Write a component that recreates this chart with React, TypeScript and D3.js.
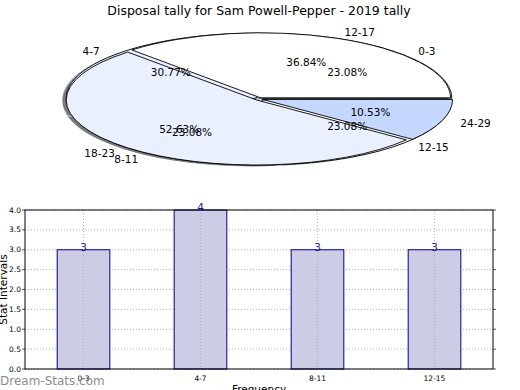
import { scaleBand, scaleLinear, pie, arc } from "d3";

const title = "Disposal tally for Sam Powell-Pepper - 2019 tally";

// first pie (2019 tally) - drawn underneath
const tallyLabels = ["0-3", "4-7", "8-11", "12-15"];
const tallyValues = [3, 4, 3, 3];
const tallyColors = ["#ffffff", "#eaf0ff", "#c4d7ff", "#ffffff"];

// second pie drawn on top of it
const rangeLabels = ["12-17", "18-23", "24-29"];
const rangeValues = [7, 10, 2];
const rangeColors = ["#ffffff", "#eaf0ff", "#c4d7ff"];

const W = 520;
const H = 390;
const FONT = "DejaVu Sans, sans-serif";

const pieCx = 259;
const pieCy = 99;
const rx = 190;
const ry = 65;
const explode = 0.02;

const arcGen = arc<any>().innerRadius(0).outerRadius(1);
const pieGen = pie<number>()
  .sort(null)
  .startAngle(Math.PI / 2)
  .endAngle(Math.PI / 2 - 2 * Math.PI);

function layout(values: number[], labels: string[], colors: string[]) {
  const total = values.reduce((a, b) => a + b, 0);
  return pieGen(values).map((a, i) => {
    const mid = (a.startAngle + a.endAngle) / 2;
    const ux = Math.sin(mid);
    const uy = -Math.cos(mid);
    return {
      d: arcGen(a) as string,
      ox: pieCx + ux * explode * rx,
      oy: pieCy + uy * explode * ry,
      lx: pieCx + ux * (explode + 1.1) * rx,
      ly: pieCy + uy * (explode + 1.1) * ry,
      px: pieCx + ux * (explode + 0.6) * rx,
      py: pieCy + uy * (explode + 0.6) * ry,
      right: ux >= 0,
      label: labels[i],
      pct: ((values[i] / total) * 100).toFixed(2) + "%",
      color: colors[i],
    };
  });
}

const pie1 = layout(tallyValues, tallyLabels, tallyColors);
const pie2 = layout(rangeValues, rangeLabels, rangeColors);

// bar chart
const plot = { left: 25, right: 493, top: 210, bottom: 369 };
const x = scaleBand<string>()
  .domain(tallyLabels)
  .range([plot.left, plot.right])
  .paddingInner(0.55)
  .paddingOuter(0.275);
const y = scaleLinear().domain([0, 4]).range([plot.bottom, plot.top]);
const yTicks = y.ticks(8);

export default function App() {
  const wedges = [...pie1, ...pie2];
  return (
    <svg
      width={W}
      height={H}
      style={{ position: "fixed", left: 0, top: 0, background: "#fff" }}
      fontFamily={FONT}
    >
      <text x={259} y={15} textAnchor="middle" fontSize={12.5}>
        {title}
      </text>

      {/* shadows */}
      {wedges.map((w, i) => (
        <path
          key={"s" + i}
          d={w.d}
          transform={`translate(${w.ox - 0.02 * rx},${w.oy + 0.02 * ry}) scale(${rx},${ry})`}
          fill="#4d4d4d"
          opacity={0.5}
        />
      ))}
      {wedges.map((w, i) => (
        <path
          key={"w" + i}
          d={w.d}
          transform={`translate(${w.ox},${w.oy}) scale(${rx},${ry})`}
          fill={w.color}
          stroke="#000"
          strokeWidth={0.9}
          vectorEffect="non-scaling-stroke"
          strokeLinejoin="round"
        />
      ))}
      {wedges.map((w, i) => (
        <g key={"t" + i} fontSize={10.5}>
          <text
            x={w.lx}
            y={w.ly}
            textAnchor={w.right ? "start" : "end"}
            dominantBaseline="central"
          >
            {w.label}
          </text>
          <text x={w.px} y={w.py} textAnchor="middle" dominantBaseline="central">
            {w.pct}
          </text>
        </g>
      ))}

      {/* bar chart grid */}
      {yTicks.map((t) => (
        <g key={"gy" + t}>
          <line
            x1={plot.left}
            x2={plot.right}
            y1={y(t)}
            y2={y(t)}
            stroke="#b0b0b0"
            strokeDasharray="1,2"
          />
          <line x1={plot.left - 3} x2={plot.left} y1={y(t)} y2={y(t)} stroke="#555" />
          <line x1={plot.right} x2={plot.right + 3} y1={y(t)} y2={y(t)} stroke="#555" />
          <text
            x={plot.left - 4}
            y={y(t)}
            textAnchor="end"
            dominantBaseline="central"
            fontSize={7.5}
          >
            {t.toFixed(1)}
          </text>
        </g>
      ))}
      {tallyLabels.map((c, i) => {
        const cx = (x(c) as number) + x.bandwidth() / 2;
        return (
          <g key={"b" + c}>
            <rect
              x={x(c)}
              y={y(tallyValues[i])}
              width={x.bandwidth()}
              height={plot.bottom - y(tallyValues[i])}
              fill="#ccccE6"
              stroke="#000080"
              strokeWidth={1}
            />
            <line
              x1={cx}
              x2={cx}
              y1={plot.top}
              y2={plot.bottom}
              stroke="#b0b0b0"
              strokeDasharray="1,2"
            />
            <text
              x={cx}
              y={y(tallyValues[i]) + 1}
              textAnchor="middle"
              fontSize={10.5}
              fill="#1a1a99"
            >
              {tallyValues[i]}
            </text>
            <text x={cx} y={381} textAnchor="middle" fontSize={7.5}>
              {c}
            </text>
          </g>
        );
      })}
      <rect
        x={plot.left}
        y={plot.top}
        width={plot.right - plot.left}
        height={plot.bottom - plot.top}
        fill="none"
        stroke="#000"
        strokeWidth={1}
      />
      <text
        transform={`translate(7,${(plot.top + plot.bottom) / 2}) rotate(-90)`}
        textAnchor="middle"
        fontSize={10.5}
      >
        Stat Intervals
      </text>
      <text x={259} y={393} textAnchor="middle" fontSize={10.5}>
        Frequency
      </text>
      <text x={0} y={385} fontSize={12} fill="#8c8c8c">
        Dream-Stats.com
      </text>
    </svg>
  );
}
